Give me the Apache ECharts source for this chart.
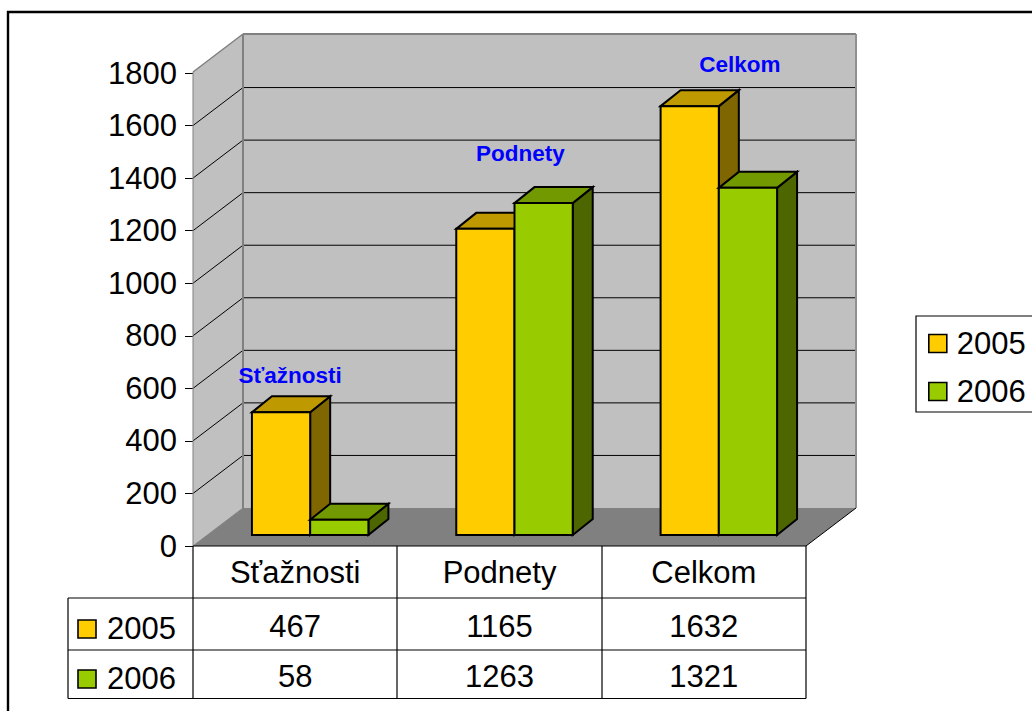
<!DOCTYPE html>
<html><head><meta charset="utf-8">
<style>html,body{margin:0;padding:0;background:#fff;overflow:hidden}#c{width:1032px;height:711px}text{font-kerning:none}</style>
<script src="https://cdn.jsdelivr.net/npm/echarts@6/dist/echarts.min.js"></script>
</head><body><div id="c"></div>
<script>
const categories = ['Sťažnosti', 'Podnety', 'Celkom'];
const years = ['2005', '2006'];
const values2005 = [467, 1165, 1632];
const values2006 = [58, 1263, 1321];
const yTicks = [0, 200, 400, 600, 800, 1000, 1200, 1400, 1600, 1800];

const FONT = '"Liberation Sans", Arial, sans-serif';
const FS = 31;
const WALL = {dx: 50, dy: -38};
const BAR = {ox: 15, oy: -11, dx: 20, dy: -16, share: 0.285};
const PAL = {
  '2005': {front: '#FFCC00', side: '#806600', top: '#BF9900'},
  '2006': {front: '#99CC00', side: '#4D6600', top: '#739900'}
};
// label anchors: height on the value axis, and horizontal shift from the category centre
const labelHeights = [648, 1495, 1832];
const labelShift = [-5, 21, 36];

function poly(pts, fill, stroke, lw) {
  return {type: 'polygon', shape: {points: pts}, style: {fill: fill, stroke: stroke || null, lineWidth: lw || 0, lineJoin: 'miter'}};
}
function seg(x1, y1, x2, y2, stroke, lw) {
  return {type: 'line', shape: {x1, y1, x2, y2}, style: {stroke, lineWidth: lw, fill: null}};
}
function renderWalls(params, api) {
  const g = params.coordSys, x0 = g.x, x1 = g.x + g.width, yB = g.y + g.height, yT = g.y - 1;
  const d = WALL, ch = [];
  ch.push(poly([[x0, yB], [x0 + d.dx, yB + d.dy], [x0 + d.dx, yT + d.dy], [x0, yT]], '#C0C0C0'));
  ch.push(poly([[x0 + d.dx, yB + d.dy], [x1 + d.dx, yB + d.dy], [x1 + d.dx, yT + d.dy], [x0 + d.dx, yT + d.dy]], '#C0C0C0'));
  ch.push(poly([[x0, yB], [x0 + d.dx, yB + d.dy], [x1 + d.dx, yB + d.dy], [x1, yB]], '#808080'));
  yTicks.forEach(function (t) {
    if (t === 0 || t === 1800) return;
    const y = api.coord([0, t])[1];
    ch.push(seg(x0, y, x0 + d.dx, y + d.dy, '#000', 1));
    ch.push(seg(x0 + d.dx, y + d.dy, x1 + d.dx, y + d.dy, '#000', 1));
  });
  ch.push(seg(x0 + d.dx, yB + d.dy, x0 + d.dx, yT + d.dy, '#808080', 2));
  ch.push(seg(x0, yT, x0 + d.dx, yT + d.dy, '#808080', 1.5));
  ch.push(seg(x0 + d.dx, yT + d.dy, x1 + d.dx, yT + d.dy, '#808080', 2));
  ch.push(seg(x1 + d.dx, yT + d.dy, x1 + d.dx, yB + d.dy, '#909090', 2));
  ch.push(seg(x0, yT, x0, yB, '#808080', 1));
  ch.push(seg(x0, yB, x0 + d.dx, yB + d.dy, '#808080', 1));
  ch.push(seg(x1, yB, x1 + d.dx, yB + d.dy, '#000', 1));
  return {type: 'group', children: ch};
}
function barRenderer(year, side) {
  return function (params, api) {
    const i = api.value(0), v = api.value(1);
    const base = api.coord([i, 0]), top = api.coord([i, v]);
    const w = api.size([1, 0])[0] * BAR.share;
    const cx = base[0] + BAR.ox;
    const l = side === 0 ? cx - w : cx, r = l + w;
    const b = base[1] + BAR.oy, t = top[1] + BAR.oy;
    const dx = BAR.dx, dy = BAR.dy, c = PAL[year];
    return {type: 'group', children: [
      poly([[r, b], [r + dx, b + dy], [r + dx, t + dy], [r, t]], c.side, '#000', 2),
      poly([[l, t], [l + dx, t + dy], [r + dx, t + dy], [r, t]], c.top, '#000', 2),
      poly([[l, b], [r, b], [r, t], [l, t]], c.front, '#000', 2)
    ]};
  };
}
function renderLabel(params, api) {
  const i = api.value(0);
  const p = api.coord([i, api.value(1)]);
  return {type: 'text', style: {text: categories[i], x: p[0] + labelShift[i], y: p[1], align: 'center', verticalAlign: 'middle',
    fill: '#0000FF', font: 'bold 22.5px ' + FONT}};
}
function renderTable(params, api) {
  const g = params.coordSys, yB = g.y + g.height, x0 = g.x, x1 = g.x + g.width;
  const rowH = 52, band = g.width / categories.length, LEFT = 68;
  const y1 = yB + rowH, y2 = y1 + rowH, y3 = y2 + 48.5;
  const ch = [seg(x0, yB, x1, yB, '#000', 1.2), seg(LEFT, y1, x1, y1, '#000', 1.2), seg(LEFT, y2, x1, y2, '#000', 1.2), seg(LEFT, y3, x1, y3, '#000', 1.2), seg(LEFT, y1, LEFT, y3, '#000', 1.2)];
  for (let k = 0; k <= categories.length; k++) {
    const x = Math.round(x0 + k * band);
    ch.push(seg(x, yB, x, y3, '#000', 1.2));
  }
  [values2005, values2006].forEach(function (vals, r) {
    const cy = r === 0 ? y1 + 28 : y2 + 26.5;
    const sy = r === 0 ? y1 + 31 : y2 + 29;
    ch.push({type: 'rect', shape: {x: LEFT + 10, y: sy - 9, width: 18, height: 18}, style: {fill: PAL[years[r]].front, stroke: '#000', lineWidth: 1.6}});
    ch.push({type: 'text', style: {text: years[r], x: LEFT + 39, y: cy + 2, align: 'left', verticalAlign: 'middle', fill: '#000', font: FS + 'px ' + FONT}});
    vals.forEach(function (v, k) {
      ch.push({type: 'text', style: {text: String(v), x: x0 + (k + 0.5) * band, y: cy, align: 'center', verticalAlign: 'middle', fill: '#000', font: FS + 'px ' + FONT}});
    });
  });
  return {type: 'group', children: ch};
}

const chart = echarts.init(document.getElementById('c'), null, {renderer: 'svg'});
chart.setOption({
  animation: false,
  backgroundColor: '#fff',
  graphic: [{type: 'rect', z: 100, silent: true, shape: {x: 8, y: 12, width: 1060, height: 740}, style: {fill: null, stroke: '#000', lineWidth: 2.4}}],
  grid: {left: 193, top: 73, width: 613, height: 473, containLabel: false},
  legend: {
    left: 916, top: 316, orient: 'vertical', padding: [12, 30, 5, 12], itemGap: 17, itemWidth: 18, itemHeight: 18,
    borderColor: '#000', borderWidth: 1.2, backgroundColor: '#fff',
    textStyle: {fontSize: FS, fontFamily: FONT, color: '#000', padding: [0, 0, 0, 5]},
    data: years.map(function (y) { return {name: y, icon: 'rect', itemStyle: {color: PAL[y].front, borderColor: '#000', borderWidth: 1.6}}; })
  },
  xAxis: {type: 'category', data: categories, axisLine: {show: false}, axisTick: {show: false}, splitLine: {show: false},
    axisLabel: {margin: 11, fontSize: FS, fontFamily: FONT, color: '#000', interval: 0}},
  yAxis: {type: 'value', min: 0, max: 1800, interval: 200, axisLine: {show: false}, splitLine: {show: false},
    axisTick: {show: true, length: 8, lineStyle: {color: '#000', width: 1}},
    axisLabel: {margin: 16, fontSize: FS, fontFamily: FONT, color: '#000', showMinLabel: true, showMaxLabel: true,
      padding: [2, 0, 0, 0], formatter: function (v) { return String(v); }}},
  series: [
    {type: 'custom', name: 'walls', silent: true, z: 1, renderItem: renderWalls, data: [[0, 0]], clip: false, encode: {x: 0, y: 1}},
    {type: 'custom', name: years[0], z: 2, silent: true, renderItem: barRenderer(years[0], 0), itemStyle: {color: PAL['2005'].front},
      data: values2005.map(function (v, i) { return [i, v]; }), encode: {x: 0, y: 1}},
    {type: 'custom', name: years[1], z: 3, silent: true, renderItem: barRenderer(years[1], 1), itemStyle: {color: PAL['2006'].front},
      data: values2006.map(function (v, i) { return [i, v]; }), encode: {x: 0, y: 1}},
    {type: 'custom', name: 'labels', z: 4, silent: true, renderItem: renderLabel,
      data: labelHeights.map(function (v, i) { return [i, v]; }), encode: {x: 0, y: 1}},
    {type: 'custom', name: 'table', z: 5, silent: true, renderItem: renderTable, data: [[0, 0]], encode: {x: 0, y: 1}}
  ]
});
</script></body></html>
